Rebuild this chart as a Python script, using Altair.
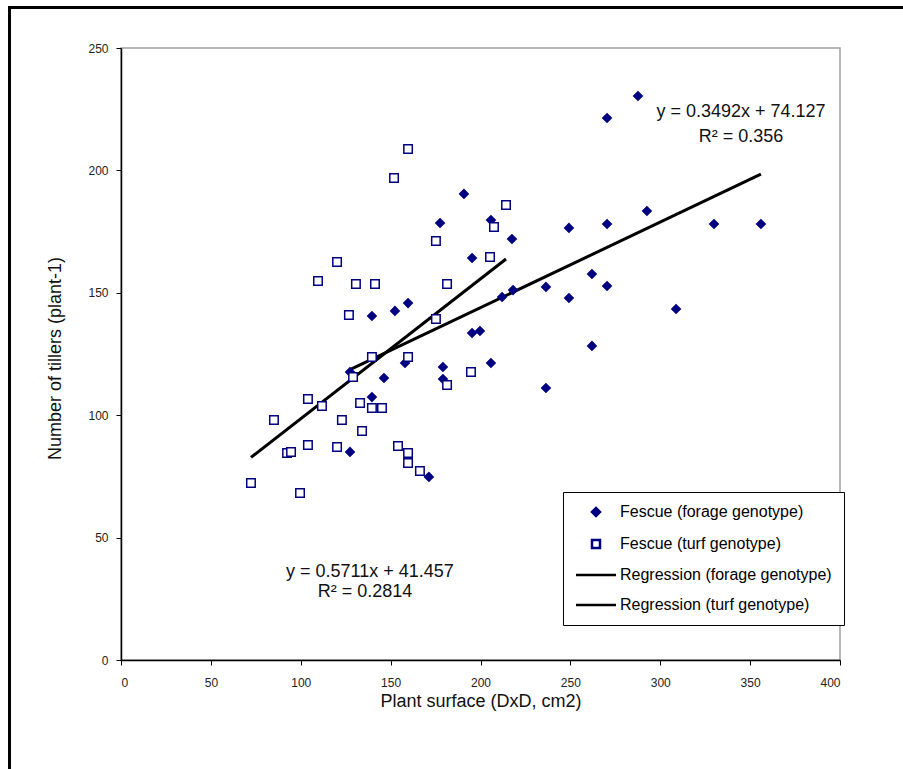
import altair as alt
import pandas as pd

# ---- data ----
forage_x = [287.6, 270.4, 190.8, 292.6, 177.5, 205.8, 270.4, 329.9, 356.0, 249.2,
            217.5, 195.3, 212.0, 218.1, 236.4, 262.0, 270.4, 249.2, 308.8, 195.3,
            199.7, 262.0, 205.8, 179.1, 179.1, 236.4, 159.7, 152.4, 139.6, 158.0,
            127.4, 146.3, 139.6, 127.4, 171.3]
forage_y = [230.4, 221.4, 190.4, 183.4, 178.5, 179.7, 178.1, 178.1, 178.1, 176.5,
            172.0, 164.2, 148.3, 151.1, 152.4, 157.7, 152.8, 147.9, 143.4, 133.6,
            134.4, 128.3, 121.3, 119.7, 114.8, 111.1, 145.8, 142.6, 140.5, 121.3,
            117.6, 115.2, 107.4, 85.0, 74.8]
turf_x = [159.7, 151.9, 120.2, 109.6, 130.7, 141.3, 181.4, 126.8, 175.2, 175.2,
          214.2, 205.3, 207.5, 139.6, 159.7, 129.1, 181.4, 194.7, 104.0, 111.8,
          133.0, 139.6, 145.2, 85.1, 122.9, 134.1, 104.0, 92.4, 94.6, 120.2,
          154.1, 159.7, 159.7, 166.3, 72.3, 99.6]
turf_y = [208.7, 196.9, 162.6, 154.8, 153.6, 153.6, 153.6, 140.9, 139.3, 171.2,
          185.9, 164.6, 176.9, 123.8, 123.8, 115.6, 112.3, 117.6, 106.6, 103.8,
          105.0, 102.9, 102.9, 98.0, 98.0, 93.5, 87.8, 84.6, 85.0, 87.0,
          87.4, 84.6, 80.5, 77.2, 72.3, 68.2]

series = ["Fescue (forage genotype)", "Fescue (turf genotype)",
          "Regression (forage genotype)", "Regression (turf genotype)"]

# regression equations shown on the chart
forage_slope, forage_icpt = 0.3492, 74.127
turf_slope, turf_icpt = 0.5711, 41.457

eq_text = ["y = 0.3492x + 74.127", "R² = 0.356", "y = 0.5711x + 41.457", "R² = 0.2814"]
eq_x = [344.9, 344.9, 138.5, 135.7]
eq_y = [223.9, 213.6, 35.9, 27.8]

x_ticks = [0, 50, 100, 150, 200, 250, 300, 350, 400]
y_ticks = [0, 50, 100, 150, 200, 250]

# ---- tables ----
pts = pd.DataFrame({
    "x": forage_x + turf_x,
    "y": forage_y + turf_y,
    "series": [series[0]] * len(forage_x) + [series[1]] * len(turf_x),
})
reg = pd.DataFrame({
    "x": [min(forage_x), max(forage_x), min(turf_x), max(turf_x)],
    "y": [forage_icpt + forage_slope * min(forage_x), forage_icpt + forage_slope * max(forage_x),
          turf_icpt + turf_slope * min(turf_x), turf_icpt + turf_slope * max(turf_x)],
    "series": [series[2], series[2], series[3], series[3]],
})
eqs = pd.DataFrame({"x": eq_x, "y": eq_y, "t": eq_text})

FONT = "Liberation Sans"
NAVY = "#000080"
line_path = "M-5,0H5"

xs = alt.Scale(domain=[0, 400], nice=False, zero=False)
ys = alt.Scale(domain=[0, 250], nice=False, zero=False)

xaxis = alt.Axis(values=x_ticks, title="Plant surface (DxD, cm2)", tickSize=5,
                 labelPadding=12, titleY=41, titleBaseline="middle",
                 titleFontSize=18, titleFontWeight="normal")
yaxis = alt.Axis(values=y_ticks, title="Number of tillers (plant-1)", tickSize=5,
                 labelPadding=8, titleX=-66, titleY=310, titleBaseline="middle",
                 titleAlign="center", titleAngle=-90,
                 titleFontSize=18, titleFontWeight="normal")

leg = alt.Legend(title=None, orient="none", legendX=442, legendY=444)

shape_sc = alt.Scale(domain=series, range=["diamond", "square", line_path, line_path])
stroke_sc = alt.Scale(domain=series, range=[NAVY, NAVY, "#000000", "#000000"])
fill_sc = alt.Scale(domain=series, range=[NAVY, "#ffffff", "transparent", "transparent"])

points = alt.Chart(pts).mark_point(size=72, opacity=1, strokeWidth=1.5).encode(
    x=alt.X("x:Q", scale=xs, axis=xaxis),
    y=alt.Y("y:Q", scale=ys, axis=yaxis),
    shape=alt.Shape("series:N", scale=shape_sc, legend=leg),
    stroke=alt.Stroke("series:N", scale=stroke_sc, legend=leg),
    fill=alt.Fill("series:N", scale=fill_sc, legend=leg),
)

lines = alt.Chart(reg).mark_line(strokeWidth=3).encode(
    x=alt.X("x:Q", scale=xs),
    y=alt.Y("y:Q", scale=ys),
    stroke=alt.Stroke("series:N", scale=stroke_sc, legend=leg),
)

texts = alt.Chart(eqs).mark_text(font=FONT, fontSize=18, color="#111111", align="center",
                                 baseline="middle").encode(
    x=alt.X("x:Q", scale=xs),
    y=alt.Y("y:Q", scale=ys),
    text="t:N",
)

frame = alt.Chart(pd.DataFrame({"k": [0]})).mark_rect(
    filled=False, stroke="black", strokeWidth=3
).encode(
    x=alt.value(-111.5), x2=alt.value(800), y=alt.value(-40.5), y2=alt.value(740)
)

chart = alt.layer(frame, lines, points, texts).properties(
    width=719, height=612,
    autosize=alt.AutoSizeParams(type="none"),
    padding={"left": 121, "top": 48, "right": 63, "bottom": 109},
    background="white",
).configure_view(
    stroke="#a0a0a0", strokeWidth=1.5
).configure_axis(
    grid=False, domainColor="black", domainWidth=1.5, tickColor="black", tickWidth=1,
    labelFont=FONT, labelFontSize=12, labelColor="#222222",
    titleFont=FONT, titleColor="#111111",
).configure_legend(
    symbolSize=64, symbolStrokeWidth=2.5, labelFont=FONT, labelFontSize=16,
    labelColor="#000000", labelLimit=400,
    padding=12, rowPadding=14, strokeColor="black", fillColor="white",
    symbolOffset=13, labelOffset=16,
)

chart.save("out.html", embed_options={"renderer": "svg", "actions": False})
